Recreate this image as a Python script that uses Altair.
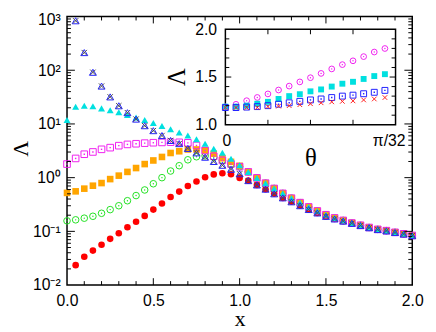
import altair as alt
import pandas as pd

# ---------------- main panel data ----------------
X = [0.00, 0.05, 0.10, 0.15, 0.20, 0.25, 0.30, 0.35, 0.40, 0.45, 0.50,
     0.55, 0.60, 0.65, 0.70, 0.75, 0.80, 0.85, 0.90, 0.95, 1.00,
     1.05, 1.10, 1.15, 1.20, 1.25, 1.30, 1.35, 1.40, 1.45, 1.50,
     1.55, 1.60, 1.65, 1.70, 1.75, 1.80, 1.85, 1.90, 1.95, 2.00]

upper_tail = [1.28, 0.99, 0.79, 0.63, 0.51, 0.415, 0.343, 0.285, 0.240, 0.204,
              0.178, 0.160, 0.143, 0.130, 0.118, 0.109, 0.103, 0.096, 0.090, 0.084]
lower_tail = [0.88, 0.73, 0.61, 0.50, 0.42, 0.355, 0.30, 0.255, 0.220, 0.190,
              0.170, 0.155, 0.141, 0.128, 0.117, 0.108, 0.102, 0.095, 0.089, 0.083]

red_head = [None, 0.0235, 0.0336, 0.0438, 0.0564, 0.0726, 0.0923, 0.119, 0.151, 0.194,
            0.254, 0.331, 0.435, 0.55, 0.70, 0.85, 1.02, 1.15, 1.21, 1.16, 0.99]
green_head = [0.157, 0.164, 0.176, 0.191, 0.217, 0.254, 0.30, 0.372, 0.464, 0.59,
              0.77, 1.0, 1.33, 1.67, 2.15, 2.45, 2.55, 2.4, 2.1, 1.8, 1.6]
orange_head = [0.52, 0.556, 0.624, 0.708, 0.793, 0.94, 1.09, 1.28, 1.51, 1.79,
               2.09, 2.43, 2.88, 3.1, 3.35, 3.35, 3.23, 2.8, 2.3, 1.97, 1.66]
magenta_head = [1.79, 2.28, 2.73, 3.01, 3.37, 3.62, 3.94, 4.16, 4.28, 4.39,
                4.47, 4.53, 4.58, 4.55, 4.45, 3.97, 3.2, 2.5, 2.1, 1.8, 1.6]
cyan_head = [11.9, 20.9, 21.8, 21.3, 19.5, 18.0, 16.5, 14.7, 13.2, 11.8,
             10.4, 9.16, 8.0, 6.9, 6.1, 5.2, 4.28, 3.47, 2.9, 2.25, 1.7]
blue_head = [None, 834, 213, 91.6, 50.7, 31.9, 21.8, 16.2, 12.3, 9.27,
             7.5, 6.08, 4.92, 4.3, 3.5, 2.9, 2.4, 2.0, 1.70, 1.43, 1.18]

red = red_head + lower_tail
green = green_head + upper_tail
orange = orange_head + upper_tail
magenta = magenta_head + upper_tail
cyan = cyan_head + upper_tail
blue = blue_head + lower_tail
gray = blue_head + lower_tail

# ---------------- inset data ----------------
TH = [0.0, 0.0625, 0.125, 0.1875, 0.25, 0.3125, 0.375, 0.4375,
      0.5, 0.5625, 0.625, 0.6875, 0.75, 0.8125, 0.875, 0.9375]
in_magenta = [1.187, 1.214, 1.252, 1.286, 1.323, 1.364, 1.405, 1.449,
              1.493, 1.538, 1.585, 1.630, 1.670, 1.714, 1.762, 1.799]
in_cyan = [1.19, 1.19, 1.20, 1.22, 1.24, 1.27, 1.30, 1.32,
           1.35, 1.37, 1.40, 1.43, 1.45, 1.48, 1.51, 1.53]
in_blue = [1.18, 1.18, 1.185, 1.19, 1.20, 1.215, 1.23, 1.245,
           1.26, 1.27, 1.285, 1.30, 1.31, 1.325, 1.34, 1.36]
in_red = [1.18, 1.18, 1.18, 1.18, 1.19, 1.195, 1.20, 1.21,
          1.22, 1.23, 1.24, 1.245, 1.25, 1.26, 1.27, 1.285]

# tick positions
x_major = [0.5, 1.0, 1.5]
x_minor = [0.1, 0.2, 0.3, 0.4, 0.6, 0.7, 0.8, 0.9, 1.1, 1.2, 1.3, 1.4, 1.6, 1.7, 1.8, 1.9]
y_major = [0.1, 1, 10, 100]
y_minor = [m * 10.0 ** k for k in range(-2, 3) for m in range(2, 10)]
ix_ticks = [0.25, 0.5, 0.75]
iy_major = [1.5]
iy_minor = [1.1, 1.2, 1.3, 1.4, 1.6, 1.7, 1.8, 1.9]

W, H = 351, 273
SANS = "Liberation Sans"
SERIF = "Liberation Serif"
XMARK = "M-1,-1L1,1M-1,1L1,-1"

xs = alt.Scale(domain=[0, 2], nice=False, zero=False)
ys = alt.Scale(type="log", domain=[0.01, 1000], nice=False)
ixs = alt.Scale(domain=[0, 1], range=[161, 334], nice=False, zero=False)
iys = alt.Scale(domain=[1.0, 2.0], range=[110, 13], nice=False, zero=False)

main_x_axis = alt.Axis(orient="bottom", values=[0, 0.5, 1, 1.5, 2], format=".1f",
                       ticks=False, domain=False, grid=False, labelFont=SANS,
                       labelFontSize=16, labelPadding=8, labelColor="black",
                       labelFlush=False, labelOverlap=False,
                       title="x", titleFont=SERIF, titleFontSize=22,
                       titleFontWeight="normal", titleColor="black",
                       titleY=41, titleBaseline="alphabetic")
main_y_axis = alt.Axis(orient="left", values=[0.01, 0.1, 1, 10, 100, 1000],
                       labelExpr="datum.value < 0.05 ? '10⁻²' : datum.value < 0.5 ? '10⁻¹' : datum.value < 5 ? '10⁰' : datum.value < 50 ? '10¹' : datum.value < 500 ? '10²' : '10³'",
                       labelOffset={"condition": {"test": "datum.value > 500", "value": 3}, "value": 0},
                       ticks=False, domain=False, grid=False, labelFont=SANS,
                       labelFontSize=16, labelPadding=7, labelColor="black",
                       labelFlush=False, labelOverlap=False,
                       title="Λ", titleFont=SERIF, titleFontSize=22,
                       titleFontWeight="normal", titleColor="black",
                       titleX=-40, titleY=134, titleBaseline="alphabetic", titleAngle=-90)

inset_x_axis = alt.Axis(orient="bottom", offset=-163, values=[0, 1],
                        labelExpr="datum.value < 0.5 ? '0' : 'π/32'",
                        labelOffset={"condition": {"test": "datum.value > 0.5", "value": -7}, "value": 1},
                        ticks=False, domain=False, grid=False, labelFont=SANS,
                        labelFontSize=16, labelPadding=8, labelColor="black",
                        labelFlush=False, labelOverlap=False,
                        title="θ", titleFont=SERIF, titleFontSize=25,
                        titleFontWeight="normal", titleColor="black",
                        titleY=41, titleBaseline="alphabetic")
inset_y_axis = alt.Axis(orient="left", offset=-161, values=[1.0, 1.5, 2.0], format=".1f",
                        ticks=False, domain=False, grid=False, labelFont=SANS,
                        labelFontSize=16, labelPadding=9, labelColor="black",
                        labelFlush=False, labelOverlap=False,
                        title="Λ", titleFont=SERIF, titleFontSize=25,
                        titleFontWeight="normal", titleColor="black",
                        titleX=-42, titleY=61, titleBaseline="alphabetic", titleAngle=-90)


def series(xv, vals, shape, color, filled, size, xscale, yscale, xaxis, yaxis, sw=1.0):
    df = pd.DataFrame({"x": xv, "v": vals}).dropna()
    return alt.Chart(df).mark_point(shape=shape, filled=filled, color=color, size=size,
                                    strokeWidth=sw, opacity=1).encode(
        x=alt.X("x:Q", scale=xscale, axis=xaxis),
        y=alt.Y("v:Q", scale=yscale, axis=yaxis))


def hticks(vals, yscale, yaxis, x0, x1):
    return alt.Chart(pd.DataFrame({"t": vals})).mark_rule(color="black", strokeWidth=1).encode(
        y=alt.Y("t:Q", scale=yscale, axis=yaxis), x=alt.value(x0), x2=alt.value(x1))


def vticks(vals, xscale, xaxis, y0, y1):
    return alt.Chart(pd.DataFrame({"t": vals})).mark_rule(color="black", strokeWidth=1).encode(
        x=alt.X("t:Q", scale=xscale, axis=xaxis), y=alt.value(y0), y2=alt.value(y1))


MX, MY = main_x_axis, main_y_axis
main_layers = [
    series(X, red, "circle", "#ff0000", True, 45, xs, ys, MX, MY),
    series(X, green, "circle", "#22e022", False, 45, xs, ys, MX, MY),
    series(X, green, "circle", "#22e022", True, 2, xs, ys, MX, MY),
    series(X, orange, "square", "#ffa500", True, 45, xs, ys, MX, MY),
    series(X, magenta, "square", "#f020f0", False, 45, xs, ys, MX, MY),
    series(X, magenta, "square", "#f020f0", True, 2, xs, ys, MX, MY),
    series(X, cyan, "triangle-up", "#00e0e0", True, 50, xs, ys, MX, MY),
    series(X, blue, "triangle-up", "#2020ff", False, 50, xs, ys, MX, MY),
    series(X, gray, XMARK, "#505050", False, 30, xs, ys, MX, MY),
    hticks(y_major, ys, MY, 0, 8), hticks(y_minor, ys, MY, 0, 4),
    hticks(y_major, ys, MY, W, W - 8), hticks(y_minor, ys, MY, W, W - 4),
    vticks(x_major, xs, MX, H, H - 7), vticks(x_minor, xs, MX, H, H - 4),
    vticks(x_major, xs, MX, 0, 7), vticks(x_minor, xs, MX, 0, 4),
]
main = alt.layer(*main_layers)

IX, IY = inset_x_axis, inset_y_axis
frame = alt.Chart(pd.DataFrame({"a": [0]})).mark_rect(fill="white", stroke="black",
                                                      strokeWidth=1.5).encode(
    x=alt.X(datum=0, type="quantitative", scale=ixs, axis=IX),
    x2=alt.X2(datum=1),
    y=alt.Y(datum=1.0, type="quantitative", scale=iys, axis=IY),
    y2=alt.Y2(datum=2.0))

inset_layers = [
    frame,
    series(TH, in_magenta, "circle", "#f020f0", False, 34, ixs, iys, IX, IY),
    series(TH, in_magenta, "circle", "#f020f0", True, 2, ixs, iys, IX, IY),
    series(TH, in_cyan, "square", "#00e0e0", True, 36, ixs, iys, IX, IY),
    series(TH, in_blue, "square", "#2020ff", False, 36, ixs, iys, IX, IY),
    series(TH, in_blue, "square", "#2020ff", True, 2, ixs, iys, IX, IY),
    series(TH, in_red, XMARK, "#ff2020", False, 22, ixs, iys, IX, IY),
    hticks(iy_major, iys, IY, 161, 167), hticks(iy_minor, iys, IY, 161, 165),
    hticks(iy_major, iys, IY, 334, 328), hticks(iy_minor, iys, IY, 334, 330),
    vticks(ix_ticks, ixs, IX, 110, 105), vticks(ix_ticks, ixs, IX, 13, 18),
]
inset = alt.layer(*inset_layers)

chart = alt.layer(main, inset).resolve_scale(x="independent", y="independent").properties(
    width=W, height=H,
    padding={"left": 60, "top": 6, "right": 16, "bottom": 43},
    autosize=alt.AutoSizeParams(type="none"),
).configure_view(stroke="black", strokeWidth=1.5)

chart.save("out.html", embed_options={"renderer": "svg", "actions": False})
